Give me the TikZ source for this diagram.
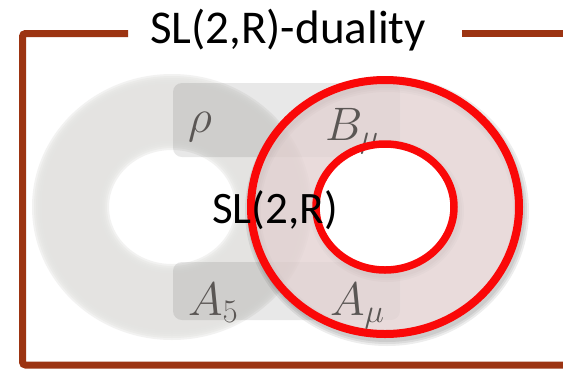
\documentclass[tikz,border=0pt]{standalone}
\usepackage{fix-cm}
\usepackage{fontspec}
\setmainfont{Carlito}
\definecolor{framebrown}{RGB}{156,52,18}
\definecolor{ringgray}{RGB}{228,227,225}
\definecolor{ringpink}{RGB}{226,208,208}
\definecolor{lblgray}{RGB}{90,86,84}
\definecolor{ringred}{RGB}{250,8,8}
\begin{document}
\begin{tikzpicture}[x=1pt,y=-1pt,
  frameline/.style={line width=7pt, draw=framebrown, line cap=butt},
  lbl/.style={text=lblgray, inner sep=0pt, font=\fontsize{47}{47}\selectfont},
  bigtext/.style={text=black, inner sep=0pt},
  band/.style={fill=black, fill opacity=0.09, rounded corners=9pt}]
\useasboundingbox (0,0) rectangle (563,368);
\fill[white] (0,0) rectangle (563,368);
% frame
\coordinate (fa) at (128,33.5);
\coordinate (fb) at (22.5,33.5);
\coordinate (fc) at (22.5,365);
\coordinate (fd) at (570,365);
\coordinate (fe) at (462,33.5);
\coordinate (ff) at (570,33.5);
\draw[frameline, rounded corners=3pt] (fa) -- (fb) -- (fc) -- (fd);
\draw[frameline] (fe) -- (ff);
\node[bigtext, anchor=base, font=\fontsize{47}{47}\selectfont] (title) at (288,43) {SL(2,R)-duality};
% gray blurred ring (stacked translucent layers)
\coordinate (gc) at (172,207);
\foreach \k in {0,1,2,3,4,5,6}{
  \pgfmathsetmacro{\dd}{6-2*\k}
  \fill[ringgray, fill opacity=0.45, even odd rule]
    (gc) ellipse [x radius={(134+\dd)*1pt}, y radius={(127+\dd)*1pt}]
    (gc) ellipse [x radius={(69-\dd)*1pt}, y radius={(63-\dd)*1pt}];
}
% bands
\fill[band] (173,83) rectangle (400,157);
\fill[band] (173,262) rectangle (400,320);
% red ring shadow
\coordinate (rc) at (385,207);
\coordinate (rs) at (387,211);
\foreach \w in {16,12,8}{
  \draw[black, opacity=0.07, line width=\w pt] (rs) ellipse [x radius=134pt, y radius=127pt];
  \draw[black, opacity=0.07, line width=\w pt] (rs) ellipse [x radius=69pt, y radius=63pt];
}
% red ring fill
\fill[ringpink, fill opacity=0.75, even odd rule] (rc) ellipse [x radius=134pt, y radius=127pt]
  (rc) ellipse [x radius=69pt, y radius=63pt];
\fill[white] (rc) ellipse [x radius=66pt, y radius=60pt];
% labels
\node[lbl, anchor=base] (rho) at (200,132) {$\rho$};
\node[lbl, anchor=base west] (bmu) at (325,140) {$B_\mu$};
\node[lbl, anchor=base west] (afive) at (188,315) {$A_5$};
\node[lbl, anchor=base west] (amu) at (330,315) {$A_\mu$};
% red ring outline
\draw[ringred, line width=8pt] (rc) ellipse [x radius=134pt, y radius=127pt];
\draw[ringred, line width=7.5pt] (rc) ellipse [x radius=69pt, y radius=63pt];
% center text
\node[bigtext, anchor=base, font=\fontsize{45}{45}\selectfont] (sl) at (275,223) {SL(2,R)};
\end{tikzpicture}
\end{document}
